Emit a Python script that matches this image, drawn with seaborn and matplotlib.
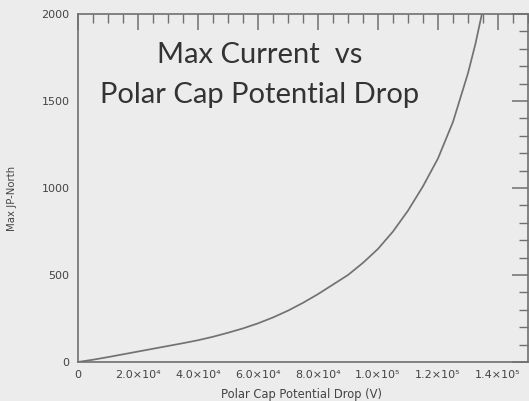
import matplotlib
matplotlib.use("Agg")
import matplotlib.pyplot as plt
import matplotlib.ticker as mticker
import pandas as pd
import seaborn as sns

# Max current versus polar cap potential drop
potential_drop = [0, 5e3, 1.0e4, 1.5e4, 2.0e4, 2.5e4, 3.0e4, 3.5e4, 4.0e4, 4.5e4,
                  5.0e4, 5.5e4, 6.0e4, 6.5e4, 7.0e4, 7.5e4, 8.0e4, 8.5e4, 9.0e4,
                  9.5e4, 1.0e5, 1.05e5, 1.1e5, 1.15e5, 1.2e5, 1.25e5, 1.3e5,
                  1.325e5, 1.35e5, 1.37e5]
max_jp_north = [0, 13, 28, 44, 60, 76, 92, 108, 125, 145,
                168, 193, 222, 256, 295, 340, 390, 445, 500,
                570, 650, 750, 870, 1010, 1170, 1380, 1660,
                1830, 2030, 2200]

x_ticks = [0, 2.0e4, 4.0e4, 6.0e4, 8.0e4, 1.0e5, 1.2e5, 1.4e5]
x_tick_labels = ["0", "2.0×10⁴", "4.0×10⁴", "6.0×10⁴", "8.0×10⁴",
                 "1.0×10⁵", "1.2×10⁵", "1.4×10⁵"]
y_ticks = [0, 500, 1000, 1500, 2000]

df = pd.DataFrame({"drop": potential_drop, "jp": max_jp_north})

sns.set_style("white")
bg = "#ececec"
ink = "#444444"
axis_gray = "#707070"
plt.rcParams["font.family"] = ["DejaVu Sans"]

fig = plt.figure(figsize=(5.29, 4.01), dpi=100, facecolor=bg)
ax = fig.add_axes([0.1474, 0.0973, 0.8507, 0.8677], facecolor=bg)

sns.lineplot(data=df, x="drop", y="jp", ax=ax, color="#727272", linewidth=1.25)

ax.set_xlim(0, 1.5e5)
ax.set_ylim(0, 2000)
ax.set_xticks(x_ticks)
ax.set_xticklabels(x_tick_labels)
ax.set_yticks(y_ticks)
ax.xaxis.set_minor_locator(mticker.MultipleLocator(5e3))
ax.yaxis.set_minor_locator(mticker.MultipleLocator(100))

for s in ax.spines.values():
    s.set_color(axis_gray)
    s.set_linewidth(1.2)

ax.tick_params(which="both", direction="in", top=True, right=True,
               color=axis_gray, labelcolor=ink, labelsize=8, pad=6)
ax.tick_params(which="major", length=11.5, width=1.1)
ax.tick_params(which="minor", length=6.5, width=1.0)

ax.set_xlabel("Polar Cap Potential Drop (V)", fontsize=8.3, color=ink)
ax.set_ylabel("Max JP-North", fontsize=7.3, color=ink)
ax.xaxis.set_label_coords(0.496, -0.074)
ax.yaxis.set_label_coords(-0.135, 0.47)

title_font = ["Lato", "DejaVu Sans"]
ax.text(0.404, 0.882, "Max Current  vs", transform=ax.transAxes,
        ha="center", va="center", fontsize=21, color="#333333", family=title_font)
ax.text(0.404, 0.767, "Polar Cap Potential Drop", transform=ax.transAxes,
        ha="center", va="center", fontsize=21, color="#333333", family=title_font)

fig.savefig("out.png", dpi=100, facecolor=bg)
